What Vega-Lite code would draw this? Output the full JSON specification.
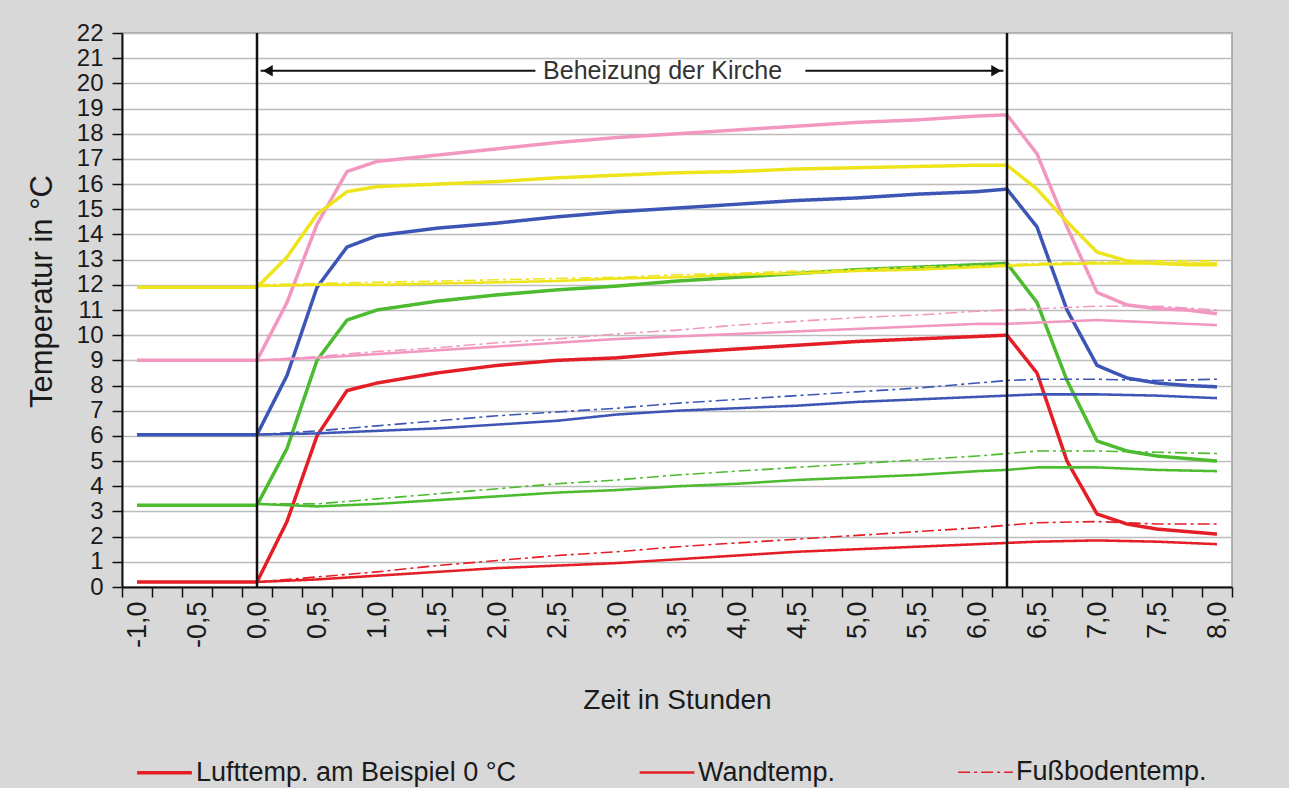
{
"$schema": "https://vega.github.io/schema/vega-lite/v6.json",
"width": 1110,
"height": 554,
"autosize": {"type": "none"},
"padding": {"left": 122, "top": 33, "right": 57, "bottom": 201},
"background": "#d8d8d8",
"config": {
  "font": "Liberation Sans",
  "view": {"stroke": "#9a9a9a", "strokeWidth": 1.5, "fill": "#ffffff"},
  "locale": {"number": {"decimal": ",", "thousands": ".", "grouping": [3], "currency": ["", " €"], "minus": "-"}}
},
"datasets": {
  "temps": [
    {"t":-1,"T":0.2,"S":"0","K":"L"},{"t":0,"T":0.2,"S":"0","K":"L"},{"t":0.25,"T":2.6,"S":"0","K":"L"},{"t":0.5,"T":6.0,"S":"0","K":"L"},{"t":0.75,"T":7.8,"S":"0","K":"L"},{"t":1,"T":8.1,"S":"0","K":"L"},{"t":1.5,"T":8.5,"S":"0","K":"L"},{"t":2,"T":8.8,"S":"0","K":"L"},{"t":2.5,"T":9.0,"S":"0","K":"L"},{"t":3,"T":9.1,"S":"0","K":"L"},{"t":3.5,"T":9.3,"S":"0","K":"L"},{"t":4,"T":9.45,"S":"0","K":"L"},{"t":4.5,"T":9.6,"S":"0","K":"L"},{"t":5,"T":9.75,"S":"0","K":"L"},{"t":5.5,"T":9.85,"S":"0","K":"L"},{"t":6,"T":9.95,"S":"0","K":"L"},{"t":6.25,"T":10.0,"S":"0","K":"L"},{"t":6.5,"T":8.5,"S":"0","K":"L"},{"t":6.75,"T":5.0,"S":"0","K":"L"},{"t":7,"T":2.9,"S":"0","K":"L"},{"t":7.25,"T":2.5,"S":"0","K":"L"},{"t":7.5,"T":2.3,"S":"0","K":"L"},{"t":7.75,"T":2.2,"S":"0","K":"L"},{"t":8,"T":2.1,"S":"0","K":"L"},
    {"t":0,"T":0.2,"S":"0","K":"W"},{"t":0.5,"T":0.3,"S":"0","K":"W"},{"t":1,"T":0.45,"S":"0","K":"W"},{"t":1.5,"T":0.6,"S":"0","K":"W"},{"t":2,"T":0.75,"S":"0","K":"W"},{"t":2.5,"T":0.85,"S":"0","K":"W"},{"t":3,"T":0.95,"S":"0","K":"W"},{"t":3.5,"T":1.1,"S":"0","K":"W"},{"t":4,"T":1.25,"S":"0","K":"W"},{"t":4.5,"T":1.4,"S":"0","K":"W"},{"t":5,"T":1.5,"S":"0","K":"W"},{"t":5.5,"T":1.6,"S":"0","K":"W"},{"t":6,"T":1.7,"S":"0","K":"W"},{"t":6.25,"T":1.75,"S":"0","K":"W"},{"t":6.5,"T":1.8,"S":"0","K":"W"},{"t":7,"T":1.85,"S":"0","K":"W"},{"t":7.5,"T":1.8,"S":"0","K":"W"},{"t":8,"T":1.7,"S":"0","K":"W"},
    {"t":0,"T":0.2,"S":"0","K":"F"},{"t":0.5,"T":0.4,"S":"0","K":"F"},{"t":1,"T":0.6,"S":"0","K":"F"},{"t":1.5,"T":0.85,"S":"0","K":"F"},{"t":2,"T":1.05,"S":"0","K":"F"},{"t":2.5,"T":1.25,"S":"0","K":"F"},{"t":3,"T":1.4,"S":"0","K":"F"},{"t":3.5,"T":1.6,"S":"0","K":"F"},{"t":4,"T":1.75,"S":"0","K":"F"},{"t":4.5,"T":1.9,"S":"0","K":"F"},{"t":5,"T":2.05,"S":"0","K":"F"},{"t":5.5,"T":2.2,"S":"0","K":"F"},{"t":6,"T":2.35,"S":"0","K":"F"},{"t":6.25,"T":2.45,"S":"0","K":"F"},{"t":6.5,"T":2.55,"S":"0","K":"F"},{"t":7,"T":2.6,"S":"0","K":"F"},{"t":7.5,"T":2.5,"S":"0","K":"F"},{"t":8,"T":2.5,"S":"0","K":"F"},
    {"t":-1,"T":3.25,"S":"3","K":"L"},{"t":0,"T":3.25,"S":"3","K":"L"},{"t":0.25,"T":5.5,"S":"3","K":"L"},{"t":0.5,"T":9.0,"S":"3","K":"L"},{"t":0.75,"T":10.6,"S":"3","K":"L"},{"t":1,"T":11.0,"S":"3","K":"L"},{"t":1.5,"T":11.35,"S":"3","K":"L"},{"t":2,"T":11.6,"S":"3","K":"L"},{"t":2.5,"T":11.8,"S":"3","K":"L"},{"t":3,"T":11.95,"S":"3","K":"L"},{"t":3.5,"T":12.15,"S":"3","K":"L"},{"t":4,"T":12.3,"S":"3","K":"L"},{"t":4.5,"T":12.45,"S":"3","K":"L"},{"t":5,"T":12.6,"S":"3","K":"L"},{"t":5.5,"T":12.7,"S":"3","K":"L"},{"t":6,"T":12.8,"S":"3","K":"L"},{"t":6.25,"T":12.85,"S":"3","K":"L"},{"t":6.5,"T":11.3,"S":"3","K":"L"},{"t":6.75,"T":8.2,"S":"3","K":"L"},{"t":7,"T":5.8,"S":"3","K":"L"},{"t":7.25,"T":5.4,"S":"3","K":"L"},{"t":7.5,"T":5.2,"S":"3","K":"L"},{"t":7.75,"T":5.1,"S":"3","K":"L"},{"t":8,"T":5.0,"S":"3","K":"L"},
    {"t":0,"T":3.3,"S":"3","K":"W"},{"t":0.5,"T":3.2,"S":"3","K":"W"},{"t":1,"T":3.3,"S":"3","K":"W"},{"t":1.5,"T":3.45,"S":"3","K":"W"},{"t":2,"T":3.6,"S":"3","K":"W"},{"t":2.5,"T":3.75,"S":"3","K":"W"},{"t":3,"T":3.85,"S":"3","K":"W"},{"t":3.5,"T":4.0,"S":"3","K":"W"},{"t":4,"T":4.1,"S":"3","K":"W"},{"t":4.5,"T":4.25,"S":"3","K":"W"},{"t":5,"T":4.35,"S":"3","K":"W"},{"t":5.5,"T":4.45,"S":"3","K":"W"},{"t":6,"T":4.6,"S":"3","K":"W"},{"t":6.25,"T":4.65,"S":"3","K":"W"},{"t":6.5,"T":4.75,"S":"3","K":"W"},{"t":7,"T":4.75,"S":"3","K":"W"},{"t":7.5,"T":4.65,"S":"3","K":"W"},{"t":8,"T":4.6,"S":"3","K":"W"},
    {"t":0,"T":3.3,"S":"3","K":"F"},{"t":0.5,"T":3.3,"S":"3","K":"F"},{"t":1,"T":3.5,"S":"3","K":"F"},{"t":1.5,"T":3.7,"S":"3","K":"F"},{"t":2,"T":3.9,"S":"3","K":"F"},{"t":2.5,"T":4.1,"S":"3","K":"F"},{"t":3,"T":4.25,"S":"3","K":"F"},{"t":3.5,"T":4.45,"S":"3","K":"F"},{"t":4,"T":4.6,"S":"3","K":"F"},{"t":4.5,"T":4.75,"S":"3","K":"F"},{"t":5,"T":4.9,"S":"3","K":"F"},{"t":5.5,"T":5.05,"S":"3","K":"F"},{"t":6,"T":5.2,"S":"3","K":"F"},{"t":6.25,"T":5.3,"S":"3","K":"F"},{"t":6.5,"T":5.4,"S":"3","K":"F"},{"t":7,"T":5.4,"S":"3","K":"F"},{"t":7.5,"T":5.35,"S":"3","K":"F"},{"t":8,"T":5.3,"S":"3","K":"F"},
    {"t":-1,"T":6.05,"S":"6","K":"L"},{"t":0,"T":6.05,"S":"6","K":"L"},{"t":0.25,"T":8.4,"S":"6","K":"L"},{"t":0.5,"T":11.9,"S":"6","K":"L"},{"t":0.75,"T":13.5,"S":"6","K":"L"},{"t":1,"T":13.95,"S":"6","K":"L"},{"t":1.5,"T":14.25,"S":"6","K":"L"},{"t":2,"T":14.45,"S":"6","K":"L"},{"t":2.5,"T":14.7,"S":"6","K":"L"},{"t":3,"T":14.9,"S":"6","K":"L"},{"t":3.5,"T":15.05,"S":"6","K":"L"},{"t":4,"T":15.2,"S":"6","K":"L"},{"t":4.5,"T":15.35,"S":"6","K":"L"},{"t":5,"T":15.45,"S":"6","K":"L"},{"t":5.5,"T":15.6,"S":"6","K":"L"},{"t":6,"T":15.7,"S":"6","K":"L"},{"t":6.25,"T":15.8,"S":"6","K":"L"},{"t":6.5,"T":14.3,"S":"6","K":"L"},{"t":6.75,"T":11.0,"S":"6","K":"L"},{"t":7,"T":8.8,"S":"6","K":"L"},{"t":7.25,"T":8.3,"S":"6","K":"L"},{"t":7.5,"T":8.1,"S":"6","K":"L"},{"t":7.75,"T":8.0,"S":"6","K":"L"},{"t":8,"T":7.95,"S":"6","K":"L"},
    {"t":0,"T":6.05,"S":"6","K":"W"},{"t":0.5,"T":6.1,"S":"6","K":"W"},{"t":1,"T":6.2,"S":"6","K":"W"},{"t":1.5,"T":6.3,"S":"6","K":"W"},{"t":2,"T":6.45,"S":"6","K":"W"},{"t":2.5,"T":6.6,"S":"6","K":"W"},{"t":3,"T":6.85,"S":"6","K":"W"},{"t":3.5,"T":7.0,"S":"6","K":"W"},{"t":4,"T":7.1,"S":"6","K":"W"},{"t":4.5,"T":7.2,"S":"6","K":"W"},{"t":5,"T":7.35,"S":"6","K":"W"},{"t":5.5,"T":7.45,"S":"6","K":"W"},{"t":6,"T":7.55,"S":"6","K":"W"},{"t":6.25,"T":7.6,"S":"6","K":"W"},{"t":6.5,"T":7.65,"S":"6","K":"W"},{"t":7,"T":7.65,"S":"6","K":"W"},{"t":7.5,"T":7.6,"S":"6","K":"W"},{"t":8,"T":7.5,"S":"6","K":"W"},
    {"t":0,"T":6.05,"S":"6","K":"F"},{"t":0.5,"T":6.2,"S":"6","K":"F"},{"t":1,"T":6.4,"S":"6","K":"F"},{"t":1.5,"T":6.6,"S":"6","K":"F"},{"t":2,"T":6.8,"S":"6","K":"F"},{"t":2.5,"T":6.95,"S":"6","K":"F"},{"t":3,"T":7.1,"S":"6","K":"F"},{"t":3.5,"T":7.3,"S":"6","K":"F"},{"t":4,"T":7.45,"S":"6","K":"F"},{"t":4.5,"T":7.6,"S":"6","K":"F"},{"t":5,"T":7.75,"S":"6","K":"F"},{"t":5.5,"T":7.9,"S":"6","K":"F"},{"t":6,"T":8.1,"S":"6","K":"F"},{"t":6.25,"T":8.2,"S":"6","K":"F"},{"t":6.5,"T":8.25,"S":"6","K":"F"},{"t":7,"T":8.25,"S":"6","K":"F"},{"t":7.5,"T":8.2,"S":"6","K":"F"},{"t":8,"T":8.25,"S":"6","K":"F"},
    {"t":-1,"T":9.0,"S":"9","K":"L"},{"t":0,"T":9.0,"S":"9","K":"L"},{"t":0.25,"T":11.3,"S":"9","K":"L"},{"t":0.5,"T":14.4,"S":"9","K":"L"},{"t":0.75,"T":16.5,"S":"9","K":"L"},{"t":1,"T":16.9,"S":"9","K":"L"},{"t":1.5,"T":17.15,"S":"9","K":"L"},{"t":2,"T":17.4,"S":"9","K":"L"},{"t":2.5,"T":17.65,"S":"9","K":"L"},{"t":3,"T":17.85,"S":"9","K":"L"},{"t":3.5,"T":18.0,"S":"9","K":"L"},{"t":4,"T":18.15,"S":"9","K":"L"},{"t":4.5,"T":18.3,"S":"9","K":"L"},{"t":5,"T":18.45,"S":"9","K":"L"},{"t":5.5,"T":18.55,"S":"9","K":"L"},{"t":6,"T":18.7,"S":"9","K":"L"},{"t":6.25,"T":18.75,"S":"9","K":"L"},{"t":6.5,"T":17.2,"S":"9","K":"L"},{"t":6.75,"T":14.3,"S":"9","K":"L"},{"t":7,"T":11.7,"S":"9","K":"L"},{"t":7.25,"T":11.2,"S":"9","K":"L"},{"t":7.5,"T":11.05,"S":"9","K":"L"},{"t":7.75,"T":11.0,"S":"9","K":"L"},{"t":8,"T":10.85,"S":"9","K":"L"},
    {"t":0,"T":9.0,"S":"9","K":"W"},{"t":0.5,"T":9.1,"S":"9","K":"W"},{"t":1,"T":9.25,"S":"9","K":"W"},{"t":1.5,"T":9.4,"S":"9","K":"W"},{"t":2,"T":9.55,"S":"9","K":"W"},{"t":2.5,"T":9.7,"S":"9","K":"W"},{"t":3,"T":9.85,"S":"9","K":"W"},{"t":3.5,"T":9.95,"S":"9","K":"W"},{"t":4,"T":10.05,"S":"9","K":"W"},{"t":4.5,"T":10.15,"S":"9","K":"W"},{"t":5,"T":10.25,"S":"9","K":"W"},{"t":5.5,"T":10.35,"S":"9","K":"W"},{"t":6,"T":10.45,"S":"9","K":"W"},{"t":6.25,"T":10.45,"S":"9","K":"W"},{"t":6.5,"T":10.5,"S":"9","K":"W"},{"t":7,"T":10.6,"S":"9","K":"W"},{"t":7.5,"T":10.5,"S":"9","K":"W"},{"t":8,"T":10.4,"S":"9","K":"W"},
    {"t":0,"T":9.0,"S":"9","K":"F"},{"t":0.5,"T":9.15,"S":"9","K":"F"},{"t":1,"T":9.35,"S":"9","K":"F"},{"t":1.5,"T":9.5,"S":"9","K":"F"},{"t":2,"T":9.7,"S":"9","K":"F"},{"t":2.5,"T":9.85,"S":"9","K":"F"},{"t":3,"T":10.05,"S":"9","K":"F"},{"t":3.5,"T":10.2,"S":"9","K":"F"},{"t":4,"T":10.4,"S":"9","K":"F"},{"t":4.5,"T":10.55,"S":"9","K":"F"},{"t":5,"T":10.7,"S":"9","K":"F"},{"t":5.5,"T":10.8,"S":"9","K":"F"},{"t":6,"T":10.95,"S":"9","K":"F"},{"t":6.25,"T":11.0,"S":"9","K":"F"},{"t":6.5,"T":11.05,"S":"9","K":"F"},{"t":7,"T":11.15,"S":"9","K":"F"},{"t":7.5,"T":11.15,"S":"9","K":"F"},{"t":8,"T":11.0,"S":"9","K":"F"},
    {"t":-1,"T":11.9,"S":"12","K":"L"},{"t":0,"T":11.9,"S":"12","K":"L"},{"t":0.25,"T":13.1,"S":"12","K":"L"},{"t":0.5,"T":14.8,"S":"12","K":"L"},{"t":0.75,"T":15.7,"S":"12","K":"L"},{"t":1,"T":15.9,"S":"12","K":"L"},{"t":1.5,"T":16.0,"S":"12","K":"L"},{"t":2,"T":16.1,"S":"12","K":"L"},{"t":2.5,"T":16.25,"S":"12","K":"L"},{"t":3,"T":16.35,"S":"12","K":"L"},{"t":3.5,"T":16.45,"S":"12","K":"L"},{"t":4,"T":16.5,"S":"12","K":"L"},{"t":4.5,"T":16.6,"S":"12","K":"L"},{"t":5,"T":16.65,"S":"12","K":"L"},{"t":5.5,"T":16.7,"S":"12","K":"L"},{"t":6,"T":16.75,"S":"12","K":"L"},{"t":6.25,"T":16.75,"S":"12","K":"L"},{"t":6.5,"T":15.8,"S":"12","K":"L"},{"t":6.75,"T":14.5,"S":"12","K":"L"},{"t":7,"T":13.3,"S":"12","K":"L"},{"t":7.25,"T":12.95,"S":"12","K":"L"},{"t":7.5,"T":12.85,"S":"12","K":"L"},{"t":7.75,"T":12.8,"S":"12","K":"L"},{"t":8,"T":12.8,"S":"12","K":"L"},
    {"t":0,"T":11.95,"S":"12","K":"W"},{"t":0.5,"T":12.0,"S":"12","K":"W"},{"t":1,"T":12.0,"S":"12","K":"W"},{"t":1.5,"T":12.05,"S":"12","K":"W"},{"t":2,"T":12.1,"S":"12","K":"W"},{"t":2.5,"T":12.15,"S":"12","K":"W"},{"t":3,"T":12.25,"S":"12","K":"W"},{"t":3.5,"T":12.3,"S":"12","K":"W"},{"t":4,"T":12.4,"S":"12","K":"W"},{"t":4.5,"T":12.45,"S":"12","K":"W"},{"t":5,"T":12.55,"S":"12","K":"W"},{"t":5.5,"T":12.6,"S":"12","K":"W"},{"t":6,"T":12.7,"S":"12","K":"W"},{"t":6.25,"T":12.75,"S":"12","K":"W"},{"t":6.5,"T":12.8,"S":"12","K":"W"},{"t":7,"T":12.85,"S":"12","K":"W"},{"t":7.5,"T":12.85,"S":"12","K":"W"},{"t":8,"T":12.85,"S":"12","K":"W"},
    {"t":0,"T":12.0,"S":"12","K":"F"},{"t":0.5,"T":12.05,"S":"12","K":"F"},{"t":1,"T":12.1,"S":"12","K":"F"},{"t":1.5,"T":12.15,"S":"12","K":"F"},{"t":2,"T":12.2,"S":"12","K":"F"},{"t":2.5,"T":12.25,"S":"12","K":"F"},{"t":3,"T":12.3,"S":"12","K":"F"},{"t":3.5,"T":12.4,"S":"12","K":"F"},{"t":4,"T":12.45,"S":"12","K":"F"},{"t":4.5,"T":12.55,"S":"12","K":"F"},{"t":5,"T":12.6,"S":"12","K":"F"},{"t":5.5,"T":12.7,"S":"12","K":"F"},{"t":6,"T":12.75,"S":"12","K":"F"},{"t":6.25,"T":12.8,"S":"12","K":"F"},{"t":6.5,"T":12.85,"S":"12","K":"F"},{"t":7,"T":12.9,"S":"12","K":"F"},{"t":7.5,"T":12.95,"S":"12","K":"F"},{"t":8,"T":12.95,"S":"12","K":"F"}
  ],
  "heiz": [{"t": 0}, {"t": 6.25}],
  "pfeil": [{"a": 0.03, "b": 2.32, "y": 20.5}, {"a": 4.57, "b": 6.22, "y": 20.5}],
  "spitzen": [{"t": 0.09, "y": 20.5, "form": "triangle-left"}, {"t": 6.16, "y": 20.5, "form": "triangle-right"}],
  "beschr": [{"t": 3.38, "y": 20.5, "txt": "Beheizung der Kirche"}]
},
"layer": [
  {
    "data": {"name": "temps"},
    "mark": {"type": "line", "strokeCap": "butt", "strokeJoin": "round"},
    "encoding": {
      "x": {
        "field": "t", "type": "quantitative",
        "scale": {"domain": [-1.125, 8.125], "nice": false, "zero": false},
        "axis": {
          "values": [-1.125,-1,-0.875,-0.625,-0.5,-0.375,-0.125,0,0.125,0.375,0.5,0.625,0.875,1,1.125,1.375,1.5,1.625,1.875,2,2.125,2.375,2.5,2.625,2.875,3,3.125,3.375,3.5,3.625,3.875,4,4.125,4.375,4.5,4.625,4.875,5,5.125,5.375,5.5,5.625,5.875,6,6.125,6.375,6.5,6.625,6.875,7,7.125,7.375,7.5,7.625,7.875,8,8.125],
          "tickCount": 200,
          "tickOpacity": {"condition": {"test": "abs(datum.value*8) % 2 == 1", "value": 1}, "value": 0},
          "labelExpr": "abs(datum.value*8) % 2 == 1 ? '' : replace(replace(format(datum.value, '.1f'), '.', ','), '\u2212', '-')",
          "labelAngle": 270,
          "labelFontSize": 27,
          "labelColor": "#1a1a1a",
          "labelPadding": 4,
          "labelOverlap": false,
          "labelSeparation": -60,
          "labelFlush": false,
          "labelBound": false,
          "grid": false,
          "domainColor": "#111111",
          "domainWidth": 2,
          "tickColor": "#111111",
          "tickWidth": 1.5,
          "tickSize": 10,
          "title": "Zeit in Stunden",
          "titleFontSize": 28,
          "titleFontWeight": "normal",
          "titleColor": "#1a1a1a",
          "titleX": 555,
          "titleY": 113,
          "titleBaseline": "middle",
          "titleAlign": "center"
        }
      },
      "y": {
        "field": "T", "type": "quantitative",
        "scale": {"domain": [0, 22], "nice": false},
        "axis": {
          "values": [0,1,2,3,4,5,6,7,8,9,10,11,12,13,14,15,16,17,18,19,20,21,22],
          "tickCount": 200,
          "format": "d",
          "grid": true,
          "gridColor": "#bcbcbc",
          "gridWidth": 1.5,
          "domainColor": "#111111",
          "domainWidth": 2,
          "tickColor": "#111111",
          "tickWidth": 1.5,
          "tickSize": 10,
          "labelFontSize": 24,
          "labelColor": "#1a1a1a",
          "labelPadding": 9,
          "labelOverlap": false,
          "labelSeparation": -60,
          "labelBound": false,
          "labelFlush": false,
          "title": "Temperatur in °C",
          "titleFontSize": 31,
          "titleFontWeight": "normal",
          "titleColor": "#1a1a1a",
          "titleX": -80,
          "titleY": 258,
          "titleAngle": 270,
          "titleBaseline": "middle",
          "titleAlign": "center"
        }
      },
      "color": {
        "field": "S", "type": "nominal",
        "scale": {"domain": ["0", "3", "6", "9", "12"], "range": ["#e41e26", "#4cbb2f", "#3d55b5", "#f197c0", "#eee41c"]},
        "legend": null
      },
      "strokeDash": {
        "field": "K", "type": "ordinal",
        "scale": {"domain": ["L", "W", "F"], "range": [[1, 0], [1, 0], [12, 4, 3, 4]]},
        "legend": {"orient": "none", "legendX": 13, "legendY": 710, "direction": "horizontal", "title": null, "symbolType": "stroke", "symbolSize": 3000, "symbolStrokeColor": "#e41e26", "labelFontSize": 27, "labelColor": "#1a1a1a", "labelOffset": 2, "columnPadding": 118, "padding": 0, "labelLimit": 600, "labelExpr": "datum.label == 'L' ? 'Lufttemp. am Beispiel 0 °C' : datum.label == 'W' ? 'Wandtemp.' : 'Fußbodentemp.'"}
      },
      "strokeWidth": {
        "field": "K", "type": "ordinal",
        "scale": {"domain": ["L", "W", "F"], "range": [3.5, 1.6, 1.6]},
        "legend": {"orient": "none", "legendX": 13, "legendY": 710, "direction": "horizontal", "title": null, "symbolType": "stroke", "symbolSize": 3000, "symbolStrokeColor": "#e41e26", "labelFontSize": 27, "labelColor": "#1a1a1a", "labelOffset": 2, "columnPadding": 118, "padding": 0, "labelLimit": 600, "labelExpr": "datum.label == 'L' ? 'Lufttemp. am Beispiel 0 °C' : datum.label == 'W' ? 'Wandtemp.' : 'Fußbodentemp.'"}
      }
    }
  },
  {
    "data": {"name": "heiz"},
    "mark": {"type": "rule", "color": "#111111", "strokeWidth": 2.5},
    "encoding": {"x": {"field": "t", "type": "quantitative"}}
  },
  {
    "data": {"name": "pfeil"},
    "mark": {"type": "rule", "color": "#111111", "strokeWidth": 2},
    "encoding": {
      "x": {"field": "a", "type": "quantitative"},
      "x2": {"field": "b"},
      "y": {"field": "y", "type": "quantitative"}
    }
  },
  {
    "data": {"name": "spitzen"},
    "mark": {"type": "point", "filled": true, "color": "#111111", "size": 130, "opacity": 1},
    "encoding": {
      "x": {"field": "t", "type": "quantitative"},
      "y": {"field": "y", "type": "quantitative"},
      "shape": {"field": "form", "type": "nominal", "scale": null}
    }
  },
  {
    "data": {"name": "beschr"},
    "mark": {"type": "text", "fontSize": 25, "color": "#333333"},
    "encoding": {
      "x": {"field": "t", "type": "quantitative"},
      "y": {"field": "y", "type": "quantitative"},
      "text": {"field": "txt"}
    }
  }
]
}
